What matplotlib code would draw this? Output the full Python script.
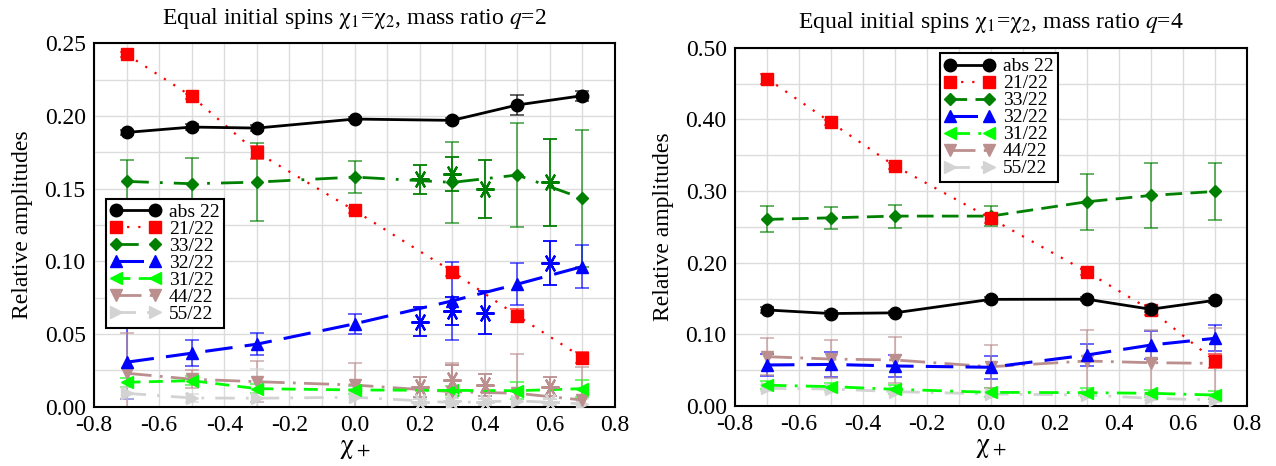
import matplotlib
matplotlib.use("Agg")
import matplotlib.pyplot as plt
from matplotlib.ticker import MultipleLocator, FormatStrFormatter

plt.rcParams['font.family'] = ['Liberation Serif', 'DejaVu Serif']
plt.rcParams['mathtext.fontset'] = 'stix'
plt.rcParams['axes.unicode_minus'] = False

# ---------------- data: q = 2 ----------------
chi_q2 = [-0.7, -0.5, -0.3, 0.0, 0.3, 0.5, 0.7]
abs22_q2 = [0.1887, 0.1924, 0.1917, 0.1979, 0.1970, 0.2076, 0.2140]
abs22_q2_err = [0.002, 0.002, 0.002, 0.0015, 0.0015, 0.007, 0.0035]
r21_q2 = [0.2424, 0.2135, 0.175, 0.135, 0.093, 0.0625, 0.0338]
r21_q2_err = [0.0015, 0.0015, 0.0045, 0.002, 0.003, 0.0045, 0.004]
r33_q2 = [0.155, 0.1534, 0.1545, 0.158, 0.1543, 0.1594, 0.1433]
r33_q2_err = [0.015, 0.018, 0.027, 0.011, 0.028, 0.036, 0.047]
r32_q2 = [0.0306, 0.0368, 0.043, 0.057, 0.0728, 0.0843, 0.0964]
r32_q2_err = [0.025, 0.009, 0.0075, 0.007, 0.027, 0.0145, 0.015]
r31_q2 = [0.0168, 0.0179, 0.0124, 0.0115, 0.0112, 0.011, 0.0124]
r31_q2_err = [0.003, 0.003, 0.003, 0.003, 0.003, 0.006, 0.006]
r44_q2 = [0.023, 0.0189, 0.0172, 0.0149, 0.0103, 0.0092, 0.0046]
r44_q2_err = [0.028, 0.006, 0.014, 0.015, 0.02, 0.027, 0.023]
r55_q2 = [0.0092, 0.006, 0.0058, 0.0065, 0.0028, 0.004, 0.002]
r55_q2_err = [0.004, 0.003, 0.02, 0.008, 0.004, 0.006, 0.003]

# extra (asterisk) points, q = 2
chi_extra = [0.2, 0.3, 0.4, 0.6]
x33_q2 = [0.1566, 0.1601, 0.150, 0.1543]
x33_q2_err = [0.010, 0.012, 0.020, 0.030]
x32_q2 = [0.0583, 0.0659, 0.0648, 0.0988]
x32_q2_err = [0.010, 0.0098, 0.015, 0.015]
x44_q2 = [0.0134, 0.0184, 0.0149, 0.0138]
x44_q2_err = [0.007, 0.010, 0.0075, 0.0065]
x55_q2 = [0.003, 0.004, 0.003, 0.003]
x55_q2_err = [0.002, 0.002, 0.002, 0.002]

# ---------------- data: q = 4 ----------------
chi_q4 = [-0.7, -0.5, -0.3, 0.0, 0.3, 0.5, 0.7]
abs22_q4 = [0.134, 0.129, 0.130, 0.1488, 0.149, 0.135, 0.1474]
abs22_q4_err = [0.004, 0.003, 0.003, 0.003, 0.003, 0.004, 0.003]
r21_q4 = [0.457, 0.3957, 0.335, 0.2617, 0.1873, 0.134, 0.0632]
r21_q4_err = [0.007, 0.003, 0.004, 0.006, 0.004, 0.007, 0.01]
r33_q4 = [0.2604, 0.2626, 0.265, 0.265, 0.285, 0.2938, 0.2994]
r33_q4_err = [0.018, 0.015, 0.016, 0.014, 0.039, 0.046, 0.040]
r32_q4 = [0.0572, 0.058, 0.0558, 0.054, 0.0711, 0.085, 0.0944]
r32_q4_err = [0.016, 0.017, 0.015, 0.016, 0.016, 0.02, 0.018]
r31_q4 = [0.029, 0.027, 0.0233, 0.019, 0.0186, 0.0177, 0.0153]
r31_q4_err = [0.006, 0.005, 0.006, 0.006, 0.006, 0.005, 0.005]
r44_q4 = [0.0688, 0.0655, 0.0642, 0.0548, 0.0628, 0.0604, 0.0595]
r44_q4_err = [0.026, 0.026, 0.032, 0.03, 0.043, 0.045, 0.05]
r55_q4 = [0.0247, 0.0237, 0.020, 0.0167, 0.0153, 0.0107, 0.0084]
r55_q4_err = [0.004, 0.004, 0.003, 0.003, 0.003, 0.003, 0.003]

labels = ['abs 22', '21/22', '33/22', '32/22', '31/22', '44/22', '55/22']
colors = ['black', '#ff0000', '#008000', '#0000ff', '#00ff00', '#bc8f8f', '#d3d3d3']
markers = ['o', 's', 'D', '^', '<', 'v', '>']
msizes = [9, 8, 6, 8, 8, 8, 8]

styles_q2 = ['-', (0, (1, 4)), (0, (8, 4, 1, 4)), (0, (9, 4)), (0, (5, 3)),
             (0, (9, 3, 1, 3)), (0, (7, 4, 1, 4))]
styles_q4 = ['-', (0, (1, 4)), (0, (6, 3)), (0, (9, 4)), (0, (7, 3, 1, 3)),
             (0, (9, 3, 1, 3)), (0, (7, 4, 1, 4))]
lws = [2.0, 1.6, 2.0, 2.2, 2.0, 2.0, 2.0]

fig = plt.figure(figsize=(12.76, 4.66), dpi=100)
ax1 = fig.add_axes([0.0737, 0.1273, 0.4083, 0.7797])
ax2 = fig.add_axes([0.576, 0.1288, 0.401, 0.7688])

series_q2 = [(abs22_q2, abs22_q2_err), (r21_q2, r21_q2_err), (r33_q2, r33_q2_err),
             (r32_q2, r32_q2_err), (r31_q2, r31_q2_err), (r44_q2, r44_q2_err),
             (r55_q2, r55_q2_err)]
series_q4 = [(abs22_q4, abs22_q4_err), (r21_q4, r21_q4_err), (r33_q4, r33_q4_err),
             (r32_q4, r32_q4_err), (r31_q4, r31_q4_err), (r44_q4, r44_q4_err),
             (r55_q4, r55_q4_err)]


def draw(ax, x, series, styles):
    handles = []
    for i, (y, e) in enumerate(series):
        ax.errorbar(x, y, yerr=e, fmt='none', ecolor=colors[i], elinewidth=1.3,
                    capsize=5, capthick=1.3, alpha=0.65, zorder=2 + i * 0.01)
        h, = ax.plot(x, y, color=colors[i], linestyle=styles[i], lw=lws[i],
                     marker=markers[i], ms=msizes[i], zorder=3 + (6 - i) * 0.01,
                     label=labels[i])
        handles.append(h)
    return handles


h1 = draw(ax1, chi_q2, series_q2, styles_q2)
extra = [(2, x33_q2, x33_q2_err), (3, x32_q2, x32_q2_err),
         (5, x44_q2, x44_q2_err), (6, x55_q2, x55_q2_err)]
for ci, y, e in extra:
    ax1.errorbar(chi_extra, y, yerr=e, fmt='none', ecolor=colors[ci],
                 elinewidth=1.3, capsize=5, capthick=1.3, zorder=2.5)
    ax1.plot(chi_extra, y, linestyle='none', marker=(6, 2, 90), ms=13, mew=1.6,
             color=colors[ci], zorder=3.5)

h2 = draw(ax2, chi_q4, series_q4, styles_q4)

for ax, ymax, major, minor in [(ax1, 0.25, 0.05, 0.025), (ax2, 0.5, 0.1, 0.05)]:
    ax.set_xlim(-0.8, 0.8)
    ax.set_ylim(0, ymax)
    ax.xaxis.set_major_locator(MultipleLocator(0.2))
    ax.xaxis.set_minor_locator(MultipleLocator(0.1))
    ax.yaxis.set_major_locator(MultipleLocator(major))
    ax.yaxis.set_minor_locator(MultipleLocator(minor))
    ax.xaxis.set_major_formatter(FormatStrFormatter('%.1f'))
    ax.yaxis.set_major_formatter(FormatStrFormatter('%.2f'))
    ax.grid(True, which='both', color='#dcdcdc', lw=1.0, zorder=0)
    ax.set_axisbelow(True)
    ax.tick_params(which='both', direction='in', length=0, labelsize=17, pad=6)
    for s in ax.spines.values():
        s.set_linewidth(1.5)
    ax.set_xlabel(r'$\mathrm{\chi_+}$', fontsize=20, labelpad=0)
    ax.set_ylabel('Relative amplitudes', fontsize=17, labelpad=8)

ax1.set_title(r'Equal initial spins $\mathrm{\chi_1}$=$\mathrm{\chi_2}$, mass ratio $q$=2',
              fontsize=17, pad=14)
ax2.set_title(r'Equal initial spins $\mathrm{\chi_1}$=$\mathrm{\chi_2}$, mass ratio $q$=4',
              fontsize=17, pad=14)

leg_kw = dict(fontsize=14, numpoints=2, handlelength=2.6, labelspacing=0.0,
              handleheight=0.5, borderpad=0.25, handletextpad=0.4, borderaxespad=0.0,
              fancybox=False, framealpha=1.0, edgecolor='black')
lg1 = ax1.legend(handles=h1, loc='upper left', bbox_to_anchor=(0.022, 0.572), **leg_kw)
lg1.get_frame().set_linewidth(1.5)
lg2 = ax2.legend(handles=h2, loc='upper left', bbox_to_anchor=(0.40, 0.985), **leg_kw)
lg2.get_frame().set_linewidth(1.5)

fig.savefig('out.png', dpi=100)
